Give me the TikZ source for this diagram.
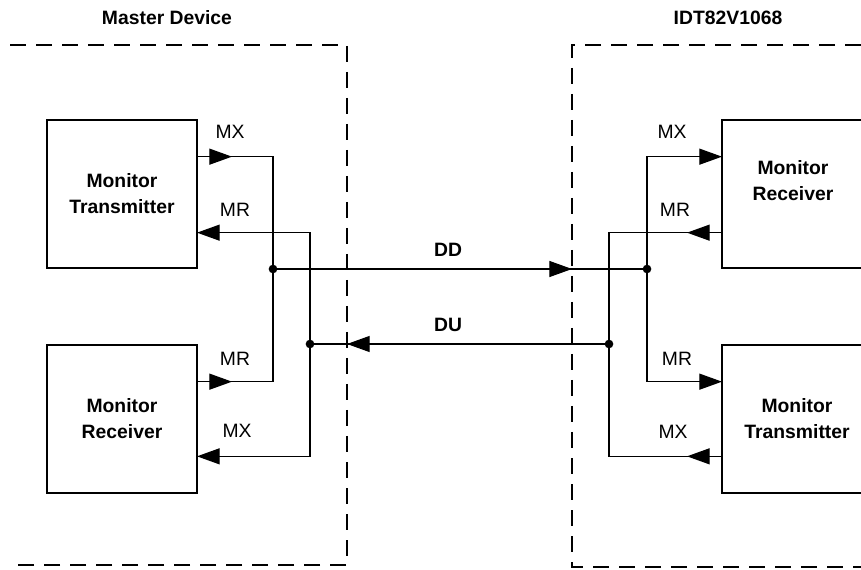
\documentclass[tikz,border=0pt]{standalone}
\usepackage{fontspec}
\setmainfont{Liberation Sans}
\usetikzlibrary{arrows.meta,decorations.markings}

\tikzset{
  block/.style={draw, line width=1.5pt, minimum width=112.5pt, minimum height=111pt,
    outer sep=0pt, align=center, font=\bfseries\fontsize{14.5}{19.5}\selectfont},
  wire/.style={line width=0.95pt},
  region/.style={line width=1.1pt, dash pattern=on 12pt off 7.5pt},
  pin/.style={font=\fontsize{14.5}{17}\selectfont},
  bus/.style={font=\bfseries\fontsize{14.5}{17}\selectfont},
  jdot/.style={circle, fill, inner sep=0pt, minimum size=6.5pt},
  headend/.style={-{Triangle[length=17pt,width=12pt]}},
  midhead/.style={postaction={decorate, decoration={markings,
    mark=at position #1 with {\arrow{Triangle[length=17pt,width=12pt]}}}}},
}

\begin{document}
\begin{tikzpicture}[x=0.75pt, y=-0.75pt]
\useasboundingbox (0,0) rectangle (861,570);

% titles
\node[bus] (mtitle) at (167,18) {Master Device};
\node[bus] (stitle) at (728,18) {IDT82V1068};

% device borders
\draw[region] (10,45) -- (347,45) -- (347,565) -- (10,565);
\draw[region] (861,45) -- (572,45) -- (572,567) -- (861,567);

% monitor blocks
\node[block] (ltx) at (122,194) {Monitor\\Transmitter};
\node[block] (lrx) at (122,419) {Monitor\\Receiver};
\node[block] (rrx) at (797,194) {};
\node[block, draw=none] (rrxtext) at (793,181) {Monitor\\Receiver};
\node[block] (rtx) at (797,419) {Monitor\\Transmitter};

% pins
\coordinate (ltx-mx) at ([yshift=28pt]ltx.east);
\coordinate (ltx-mr) at ([yshift=-29pt]ltx.east);
\coordinate (lrx-mr) at ([yshift=28pt]lrx.east);
\coordinate (lrx-mx) at ([yshift=-28pt]lrx.east);
\coordinate (rrx-mx) at ([yshift=28pt]rrx.west);
\coordinate (rrx-mr) at ([yshift=-29pt]rrx.west);
\coordinate (rtx-mr) at ([yshift=28pt]rtx.west);
\coordinate (rtx-mx) at ([yshift=-28pt]rtx.west);

% junctions
\node[jdot] (jdd1) at (273,269) {};
\node[jdot] (jdu1) at (310,344) {};
\node[jdot] (jdd2) at (647,269) {};
\node[jdot] (jdu2) at (609,344) {};

% master side
\draw[wire, midhead=26.25pt] (ltx-mx) -| (jdd1.center);
\draw[wire, midhead=26.25pt] (lrx-mr) -| (jdd1.center);
\draw[wire, headend] (jdu1.center) |- (ltx-mr);
\draw[wire, headend] (jdu1.center) |- (lrx-mx);

% IDT82V1068 side
\draw[wire, headend] (jdd2.center) |- (rrx-mx);
\draw[wire, headend] (jdd2.center) |- (rtx-mr);
\draw[wire, midhead=26.25pt] (rrx-mr) -| (jdu2.center);
\draw[wire, midhead=26.25pt] (rtx-mx) -| (jdu2.center);

% DD / DU lines
\draw[wire, midhead=224.25pt] (jdd1.center) -- (jdd2.center);
\draw[wire, midhead=196.5pt] (jdu2.center) -- (jdu1.center);

% labels
\node[pin] (l1) at (230,132) {MX};
\node[pin] (l2) at (235,210) {MR};
\node[pin] (l3) at (235,359) {MR};
\node[pin] (l4) at (237,431) {MX};
\node[pin] (r1) at (672,132) {MX};
\node[pin] (r2) at (675,210) {MR};
\node[pin] (r3) at (677,359) {MR};
\node[pin] (r4) at (673,432) {MX};
\node[bus] (ddlabel) at (448,250) {DD};
\node[bus] (dulabel) at (448,325) {DU};
\end{tikzpicture}
\end{document}
